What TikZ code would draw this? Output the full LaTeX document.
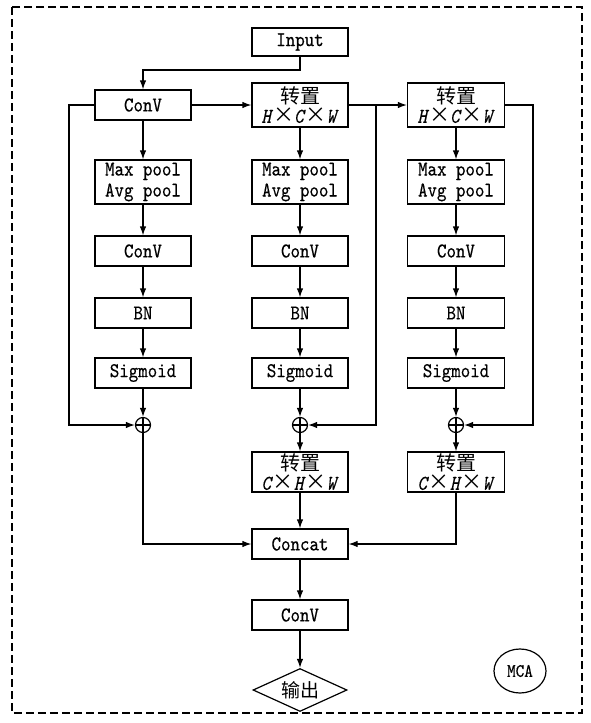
\documentclass[tikz,border=0pt]{standalone}
\usepackage{fontspec}
\setmainfont{lmmono10-regular.otf}[FakeStretch=0.86, FakeBold=0.4, ItalicFont=lmmono10-italic.otf, ItalicFeatures={FakeStretch=0.86, FakeBold=0.4}]
\newfontfamily\cjk{Noto Sans CJK SC}
\usetikzlibrary{arrows.meta,shapes.geometric}
\begin{document}
\begin{tikzpicture}[x=1pt,y=-1pt,
  every node/.style={font=\fontsize{21}{19}\selectfont},
  box/.style={draw, line width=1.2pt, minimum height=30pt, inner sep=0pt, align=center},
  wa/.style={minimum width=96pt},
  wb/.style={minimum width=96pt},
  wc/.style={minimum width=97pt},
  tall/.style={minimum height=44pt},
  pool/.style={minimum height=44pt, font=\fontsize{21}{21}\selectfont},
  arr/.style={-{Latex[length=9pt,width=6.5pt]}, line width=1.2pt},
  plus/.style={circle, draw, line width=1.2pt, minimum size=15pt, inner sep=0pt,
    path picture={\draw[line width=1.2pt] (path picture bounding box.north) -- (path picture bounding box.south)
      (path picture bounding box.west) -- (path picture bounding box.east);}}
]
\useasboundingbox (0,0) rectangle (591,723);
\draw[line width=1.2pt, dash pattern=on 8pt off 4pt] (12,7) rectangle (582,713);

\newcommand{\zz}{{\cjk\fontsize{20}{20}\selectfont 转置}}
\newcommand{\mx}{{\cjk ×}}

\node[box, minimum width=96pt, minimum height=28pt] (in) at (300,42) {Input};

% column 1
\node[box, wa] (c1) at (143,105) {ConV};
\node[box, wa, pool] (p1b) at (143,182) {Max pool\\Avg pool};
\node[box, wa] (v1) at (143,251) {ConV};
\node[box, wa] (b1) at (143,313) {BN};
\node[box, wa] (g1) at (143,373) {Sigmoid};
\node[plus] (a1) at (143,425) {};

% column 2
\node[box, wb, tall] (t1) at (300,105) {\zz\\[0pt]\textit{H}\mx\textit{C}\mx\textit{W}};
\node[box, wb, pool] (p2b) at (300,182) {Max pool\\Avg pool};
\node[box, wb] (v2) at (300,251) {ConV};
\node[box, wb] (b2) at (300,313) {BN};
\node[box, wb] (g2) at (300,373) {Sigmoid};
\node[plus] (a2) at (300,425) {};
\node[box, wb, minimum height=40pt] (r2) at (300,472) {\zz\\[0pt]\textit{C}\mx\textit{H}\mx\textit{W}};

% column 3
\node[box, wc, tall] (t2) at (456,105) {\zz\\[0pt]\textit{H}\mx\textit{C}\mx\textit{W}};
\node[box, wc, pool] (p3b) at (456,182) {Max pool\\Avg pool};
\node[box, wc] (v3) at (456,251) {ConV};
\node[box, wc] (b3) at (456,313) {BN};
\node[box, wc] (g3) at (456,373) {Sigmoid};
\node[plus] (a3) at (456,425) {};
\node[box, wc, minimum height=40pt] (r3) at (456,472) {\zz\\[0pt]\textit{C}\mx\textit{H}\mx\textit{W}};

% bottom
\node[box, wb] (cc) at (300,544) {Concat};
\node[box, wb] (cv) at (300,615) {ConV};
\node[diamond, draw, line width=1.2pt, minimum width=94pt, minimum height=43pt, aspect=2.2, inner sep=0pt, font=\cjk\fontsize{19}{19}\selectfont] (out) at (300,690) {输出};
\node[ellipse, draw, line width=1.2pt, minimum width=52pt, minimum height=44pt, inner sep=0pt, font=\fontsize{19}{19}\selectfont] (mca) at (520,671) {MCA};

% connectors
\coordinate (j0) at (300,70);
\draw[arr] (in.south) -- (j0) -| (c1.north);
\draw[arr] (c1) -- (t1);
\draw[arr] (t1) -- (t2);
\draw[arr] (c1) -- (p1b); \draw[arr] (p1b) -- (v1); \draw[arr] (v1) -- (b1); \draw[arr] (b1) -- (g1); \draw[arr] (g1) -- (a1);
\draw[arr] (t1) -- (p2b); \draw[arr] (p2b) -- (v2); \draw[arr] (v2) -- (b2); \draw[arr] (b2) -- (g2); \draw[arr] (g2) -- (a2);
\draw[arr] (t2) -- (p3b); \draw[arr] (p3b) -- (v3); \draw[arr] (v3) -- (b3); \draw[arr] (b3) -- (g3); \draw[arr] (g3) -- (a3);
\draw[arr] (a2) -- (r2);
\draw[arr] (a3) -- (r3);

\coordinate (s1) at (69,105);
\draw[arr] (c1.west) -- (s1) |- (a1.west);
\coordinate (s2) at (376,105);
\draw[arr] (s2) |- (a2.east);
\coordinate (s3) at (533,105);
\draw[arr] (t2.east) -- (s3) |- (a3.east);

\draw[arr] (a1.south) |- (cc.west);
\draw[arr] (r2) -- (cc);
\draw[arr] (r3.south) |- (cc.east);
\draw[arr] (cc) -- (cv);
\draw[arr] (cv) -- (out);
\end{tikzpicture}
\end{document}
